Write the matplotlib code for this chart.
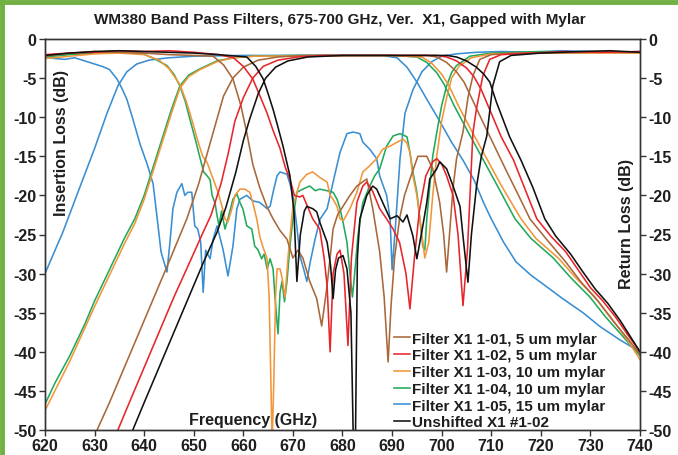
import matplotlib
matplotlib.use("Agg")
import matplotlib.pyplot as plt
from matplotlib.lines import Line2D

plt.rcParams['font.family'] = ['Liberation Sans', 'DejaVu Sans']
plt.rcParams['font.weight'] = 'bold'

# ---------------- data (GHz, dB) ----------------
labels = ["Filter X1 1-01, 5 um mylar", "Filter X1 1-02, 5 um mylar",
          "Filter X1 1-03, 10 um mylar", "Filter X1 1-04, 10 um mylar",
          "Filter X1 1-05, 15 um mylar", "Unshifted X1 #1-02"]
colors = ["#A8683A", "#E8252B", "#F2963A", "#22A95C", "#3A8ED2", "#111111"]

x_ticks = [620, 630, 640, 650, 660, 670, 680, 690, 700, 710, 720, 730, 740]
y_ticks = [0, -5, -10, -15, -20, -25, -30, -35, -40, -45, -50]

# Insertion loss curves
blue_il_f = [620, 623.6, 627, 630, 632.5, 634.7, 636.5, 638.5, 641, 645, 650, 660, 670, 680, 688, 691, 693, 695, 697, 699.6, 702, 704.3, 706.5, 708.5, 710, 712.5, 715, 718, 721, 724.4, 728.5, 732, 736, 740]
blue_il_db = [-30, -24.7, -19, -14, -9.5, -6, -4.2, -3.2, -2.7, -2.4, -2.2, -2.1, -2.1, -2.1, -2.1, -2.4, -3.6, -5.5, -7.7, -10.5, -13.2, -15.5, -18, -21, -23, -26, -28.5, -30.2, -31.6, -33.2, -35, -36.8, -38.5, -40]

green_il_f = [620, 622, 625, 628, 630, 633, 636, 638.1, 640, 642, 644, 645.5, 647.2, 649, 651.3, 654.7, 658, 662, 670, 690, 695, 697, 699, 700.5, 702.5, 705, 708, 711, 714.8, 718, 722.5, 726, 729.9, 733, 736.5, 740]
green_il_db = [-46.7, -44, -40.5, -36.5, -33.5, -29.5, -25.5, -23, -20, -16, -12, -9, -6, -4.6, -3.8, -2.8, -2.4, -2.2, -2.1, -2.1, -2.3, -3.0, -4.3, -5.8, -8.5, -11.5, -15, -18.5, -23, -25.5, -28, -30.5, -33, -35.5, -38, -40.5]

orange_il_f = [620, 625, 630, 633, 636, 638.1, 640, 642, 644, 645.5, 647.2, 649, 651.3, 654.7, 658, 662, 690, 696, 698, 700, 701.5, 703.5, 706, 709, 712, 716, 719, 723.5, 727, 730.9, 734, 737.5, 740]
orange_il_db = [-47.5, -41.2, -34.2, -30.2, -26.2, -23.6, -20.5, -16.5, -12.5, -9.5, -6.3, -4.8, -3.9, -2.9, -2.4, -2.2, -2.1, -2.3, -3.1, -4.5, -6, -8.7, -11.7, -15.2, -18.7, -23, -25.5, -28, -30.5, -33, -35.5, -38.5, -41]

brown_il_f = [630.5, 633, 636, 639, 642, 645, 648.6, 651, 653, 654.7, 656, 657.9, 660, 663, 667, 672, 697, 699, 701, 703, 704.5, 706, 708, 710.5, 713, 715.5, 717.8, 721, 725, 728, 731.5, 734.5, 737.5, 740]
brown_il_db = [-50, -46.5, -42, -37.5, -33, -28.5, -23, -18.5, -14, -10.2, -7.3, -5, -3.6, -2.7, -2.3, -2.1, -2.1, -2.3, -3, -4.2, -5.5, -7.5, -10.2, -13.5, -16.8, -20, -23, -25.5, -28.5, -31, -33.5, -36, -38.3, -40.3]

red_il_f = [634.7, 637, 640, 643, 646, 649, 651.9, 653.5, 655.5, 657, 658.3, 660, 661.9, 664, 667, 671, 676, 699, 701, 703, 705, 706.5, 708, 710, 712, 714.5, 717, 719.2, 722, 725, 727.5, 730, 732.5, 735, 737.5, 740]
red_il_db = [-50, -46.5, -42, -37.5, -33, -28.8, -24.7, -22.5, -18.5, -14.5, -10.5, -7.5, -5, -3.5, -2.7, -2.3, -2.1, -2.1, -2.3, -2.8, -3.7, -4.8, -6.5, -9.5, -12.5, -15.5, -19.5, -23, -25.2, -27.2, -29.5, -31.8, -33.5, -35.5, -37.8, -40]

black_il_f = [637.7, 640, 643, 646, 649, 652, 654.7, 656.5, 658.5, 660, 661.3, 663, 664.5, 666.5, 669, 673, 680, 701, 703, 705, 707, 708.5, 709.7, 711, 713.7, 716, 718.4, 720.8, 723, 726, 728.5, 731, 733.5, 736, 738, 740]
black_il_db = [-50, -46.5, -42, -37.5, -33, -28.5, -24.7, -21.5, -17, -13, -10.2, -7, -5, -3.6, -2.8, -2.3, -2.1, -2.1, -2.3, -2.8, -3.6, -4.5, -5.5, -8, -12.5, -15.5, -19, -23, -25.2, -27.5, -29.8, -32, -33.8, -36, -38, -40]

# Return loss curves
blue_rl_f = [620, 622, 624, 626, 628, 630, 631.5, 633, 634.5, 635.5, 636.5, 637.7, 639.2, 640.6, 641.8, 642.8, 643.4, 643.8, 644.6, 645.2, 645.8, 646.6, 647.6, 648.2, 648.8, 649.6, 650.2, 650.8, 651.4, 651.9, 652.4, 653.3, 653.9, 654.7, 655.9, 656.9, 657.9, 658.7, 659.3, 660.7, 661.9, 663.3, 664.8, 665.4, 666, 666.8, 667.4, 668.8, 669.4, 670, 670.8, 671.4, 672.2, 672.8, 673.5, 674.5, 675.5, 676.9, 678.1, 679.5, 680.9, 682.1, 683.5, 684.1, 685.5, 686.9, 687.5, 688.9, 689.6, 690, 690.6, 691.6, 692.6, 694.2, 696, 698, 700, 703, 707, 712, 718, 724, 730, 735, 740]
blue_rl_db = [-2.3, -2.5, -2.6, -2.4, -2.8, -3.2, -3.5, -3.9, -5.1, -6.3, -7.7, -10.2, -13.5, -16, -18.5, -23.9, -27.2, -28.1, -29.8, -26, -21.7, -19.6, -18.5, -20, -19.6, -19.6, -23.9, -24.3, -26, -32.4, -27, -28.1, -25.6, -23.9, -26.9, -30.3, -26.5, -21.7, -20.5, -20, -20.7, -20.9, -21.7, -21.4, -19.6, -17.5, -17, -17.3, -18.5, -20, -24, -27.7, -29.5, -31, -28.5, -25.5, -23, -21.7, -18.3, -14.5, -12.1, -11.9, -12.1, -13.2, -14.1, -15.3, -17.5, -20, -23, -29.5, -24.7, -15.3, -9.5, -6.5, -4.2, -2.9, -2.2, -1.9, -1.7, -1.6, -1.7, -1.5, -1.6, -1.7, -1.6]

green_rl_f = [620, 625, 630, 635, 639.8, 642, 644.6, 646, 647.2, 648.3, 649.2, 650.3, 651.3, 652, 652.7, 653.3, 653.7, 654.3, 654.7, 655.1, 655.6, 656.3, 656.9, 657.9, 658.7, 659.3, 659.9, 660.7, 661.7, 662.3, 662.9, 663.7, 664.2, 664.8, 665.4, 666, 666.4, 667, 667.4, 667.8, 668.3, 668.8, 669.4, 670, 670.8, 672, 673.4, 674.5, 675.4, 676.9, 678.1, 678.9, 679.5, 680.1, 680.9, 681.5, 682, 682.6, 683.1, 684.1, 685.5, 686.5, 687.5, 688.9, 690.2, 691.6, 693, 693.6, 694.2, 695, 695.6, 696.2, 696.6, 697, 697.6, 698.2, 699, 700, 701, 702, 703, 705.7, 710, 720, 730, 740]
green_rl_db = [-2.3, -2.0, -1.8, -1.7, -1.9, -2.5, -3.4, -4.5, -6, -8, -10.2, -12.8, -15.3, -17, -17.5, -18, -20, -21, -22.6, -23.9, -22, -24.3, -23, -20.5, -19.8, -20.9, -21.7, -23.9, -24.3, -26.5, -26.9, -28.1, -27.5, -29.4, -28.1, -29.4, -33.2, -37.7, -32.4, -31, -33.6, -31, -26.5, -23, -19.6, -19.2, -18.8, -19.4, -19.2, -19.4, -19.6, -20.5, -21.7, -23.4, -26, -30, -33, -29, -25.2, -20.9, -18.8, -17.5, -16.6, -13.7, -12.4, -12.1, -12.5, -14.5, -17, -19.6, -23, -26.5, -27, -23, -18.8, -15, -12, -8.5, -6, -4.3, -3.4, -2.2, -1.8, -1.6, -1.7, -1.7]

orange_rl_f = [620, 625, 630, 635, 640, 643, 645, 647.2, 648.5, 649.7, 650.8, 651.8, 652.7, 653.9, 654.9, 655.7, 656.3, 656.9, 657.7, 658.3, 659.3, 660.3, 661.3, 661.9, 662.7, 663.3, 663.9, 664.8, 665.2, 665.6, 665.8, 666.1, 666.5, 666.8, 667.4, 667.8, 668.4, 669, 670, 671.4, 672.8, 674, 675.4, 676.9, 677.5, 678.1, 678.9, 679.5, 680.2, 681.5, 682.9, 684.1, 685.5, 686.9, 688.1, 689.6, 691, 692.2, 693, 693.6, 694.2, 695, 695.8, 696.6, 697.4, 698.2, 699, 700, 701, 702, 703.5, 706, 710, 720, 730, 740]
orange_rl_db = [-2.5, -2.2, -1.9, -1.8, -2.0, -2.7, -3.8, -5.8, -8, -10.5, -13, -15, -15.8, -17.9, -19.6, -21.4, -23, -23.4, -21.7, -20, -19.2, -19.2, -19.6, -20.9, -23, -25.2, -26.5, -28.1, -33, -45, -52, -45, -33, -29.4, -29.4, -30.5, -33, -28, -21.4, -18.3, -17.3, -17, -17.7, -18.3, -20, -20.5, -21.4, -23, -23.2, -21.7, -19.6, -17, -16.2, -15.3, -14.1, -13.7, -13.2, -12.8, -13.3, -14.5, -17.5, -20, -24, -28, -26, -20, -15, -10.5, -7.5, -5, -3.5, -2.4, -1.9, -1.8, -1.8, -1.8]

brown_rl_f = [620, 625, 630, 635, 640, 645, 650, 653.9, 656, 657.9, 659.5, 660.7, 661.9, 663.3, 664.8, 666, 667.4, 668.8, 670, 671, 672, 673.4, 674.8, 675.8, 676.8, 677.5, 678.1, 679, 680.1, 681.5, 682.9, 684.9, 686.1, 687.5, 688.4, 689.2, 689.8, 690.5, 691.5, 692.5, 693.6, 695.2, 697, 698.2, 699.6, 700.4, 701, 701.7, 702.3, 703, 704.3, 705.3, 706.3, 707.7, 710, 715, 720, 730, 740]
brown_rl_db = [-2.2, -1.8, -1.6, -1.7, -1.8, -2.0, -2.1, -2.2, -3.3, -5.1, -8.5, -12, -16, -19, -21.5, -23, -24.5, -25.6, -28, -27, -28, -31, -33.2, -36.7, -32, -28, -24.3, -22.5, -21.4, -20, -18.8, -17.9, -21.7, -27.2, -33, -41.3, -34, -28, -23, -20, -17.9, -15, -15, -16.6, -20.9, -25, -29.8, -24, -19, -15.3, -11.9, -7.5, -4.7, -2.6, -2.0, -1.8, -1.8, -1.7, -1.7]

red_rl_f = [620, 625, 630, 635, 640, 645, 650, 655, 658, 660, 661.9, 663.5, 664.8, 666, 667.4, 668.5, 669.4, 670.3, 671.4, 672, 673, 674, 675.4, 676.3, 676.9, 677.5, 678.1, 678.9, 679.5, 680.3, 681.1, 681.8, 682.9, 684.1, 684.9, 686.1, 687.5, 688.9, 690.2, 691.5, 692.8, 693.6, 694.5, 695.5, 696.8, 698.2, 699, 700, 701, 702.3, 703.3, 704.3, 705.2, 706.3, 707, 708.3, 709.7, 712, 718, 725, 732, 740]
red_rl_db = [-2.0, -1.8, -1.7, -1.5, -1.6, -1.5, -1.7, -2.0, -2.4, -3.5, -5.1, -7.5, -9.5, -11.7, -14, -16.5, -17.9, -20, -20.2, -20, -21.5, -23, -24.3, -28, -31.6, -40, -30, -27.5, -27, -30, -39.2, -28, -20.9, -18.8, -18.3, -19.5, -21.7, -23, -24.3, -26, -30, -34.5, -28, -22, -17.5, -15.7, -15.3, -16, -17.5, -20, -25, -34.1, -27, -12, -9, -4.7, -2.6, -2.0, -1.8, -1.6, -1.7, -1.6]

black_rl_f = [620, 625, 630, 635, 640, 645, 650, 655, 660.7, 662.5, 664, 665, 666, 667, 668, 669.4, 670.2, 670.8, 671.5, 672.3, 672.8, 674, 674.8, 675.4, 676.9, 677.6, 678.1, 678.6, 679.2, 680.1, 680.9, 681.7, 682.2, 682.6, 683, 683.5, 684.9, 686.1, 686.9, 688.1, 689.6, 691, 692.2, 693, 694.2, 695, 695.6, 696.2, 697, 697.6, 699, 699.6, 701, 702.3, 703.7, 704.3, 705.3, 706, 707, 708, 709.1, 710.3, 711.7, 714, 720, 728, 734, 740]
black_rl_db = [-2.1, -1.8, -1.6, -1.5, -1.6, -1.7, -1.8, -2.0, -2.3, -3.5, -5.1, -7, -9, -11.3, -13.7, -17.5, -22, -31, -25, -22, -21.4, -21.7, -22.1, -23.4, -26, -29, -33.2, -29.5, -28, -27.7, -29.4, -35, -52, -52, -28, -23, -20, -18.8, -19.2, -20.9, -23, -22.6, -23.4, -22.5, -25.2, -28.1, -26, -23.9, -20.9, -17.9, -16.6, -15.7, -16.6, -18.8, -21.4, -25.2, -31.1, -25, -19, -15, -12.4, -6, -2.9, -2.1, -1.8, -1.6, -1.5, -1.7]

# ---------------- figure ----------------
TXT = '#1e1e1e'
fig = plt.figure(figsize=(6.78, 4.56), dpi=100)
ax = fig.add_axes([45/678, 1-431/456, 595/678, 391/456])

series = [
    (blue_il_f, blue_il_db, blue_rl_f, blue_rl_db, colors[4]),
    (green_il_f, green_il_db, green_rl_f, green_rl_db, colors[3]),
    (orange_il_f, orange_il_db, orange_rl_f, orange_rl_db, colors[2]),
    (brown_il_f, brown_il_db, brown_rl_f, brown_rl_db, colors[0]),
    (red_il_f, red_il_db, red_rl_f, red_rl_db, colors[1]),
    (black_il_f, black_il_db, black_rl_f, black_rl_db, colors[5]),
]
for ilf, ild, rlf, rld, c in series:
    ax.plot(ilf, ild, color=c, lw=1.15)
    ax.plot(rlf, rld, color=c, lw=1.15)

ax.set_xlim(620, 740)
ax.set_ylim(-50, 0)
ax.set_xticks(x_ticks)
ax.set_yticks(y_ticks)
ax.set_yticklabels([str(v) for v in y_ticks])
ax.tick_params(direction='out', length=4, width=1, labelsize=11.5, pad=2,
               color='#333333', labelcolor=TXT)
for lab in ax.get_xticklabels() + ax.get_yticklabels():
    lab.set_fontweight('bold')
for s in ax.spines.values():
    s.set_color('#333333')
    s.set_linewidth(1)

ax2 = ax.twinx()
ax2.set_ylim(-50, 0)
ax2.set_yticks(y_ticks)
ax2.set_yticklabels([str(v) for v in y_ticks])
ax2.tick_params(direction='out', length=4, width=1, labelsize=11.5, pad=2,
                color='#333333', labelcolor=TXT)
for lab in ax2.get_yticklabels():
    lab.set_fontweight('bold')
for s in ax2.spines.values():
    s.set_color('#333333')
    s.set_linewidth(1)

ax.text(623.4, -13.2, "Insertion Loss (dB)", rotation=90, ha='center', va='center',
        fontsize=11.5, fontweight='bold', color=TXT)
ax.text(737.3, -23.5, "Return Loss (dB)", rotation=90, ha='center', va='center',
        fontsize=11.5, fontweight='bold', color=TXT)
ax.text(661.9, -48.6, "Frequency (GHz)", ha='center', va='center',
        fontsize=11.5, fontweight='bold', color=TXT)

fig.text(340/678, 1-20/456, "WM380 Band Pass Filters, 675-700 GHz, Ver.  X1, Gapped with Mylar",
         ha='center', va='center', fontsize=11, fontweight='bold', color=TXT)

handles = [Line2D([0], [0], color=c, lw=1.15) for c in colors]
leg = ax.legend(handles, labels, loc='lower left', bbox_to_anchor=((386-45)/595, -0.02),
                frameon=False, fontsize=11, handlelength=1.0, handletextpad=0.15,
                labelspacing=0.18, borderaxespad=0.15)
for t in leg.get_texts():
    t.set_fontweight('bold')
    t.set_color(TXT)

green = "#72B043"
fig.add_artist(Line2D([0.003, 0.003], [0, 1], transform=fig.transFigure, color=green, lw=3.5))
fig.add_artist(Line2D([0, 1], [0.994, 0.994], transform=fig.transFigure, color=green, lw=3.5))

fig.savefig("out.png", dpi=100)
